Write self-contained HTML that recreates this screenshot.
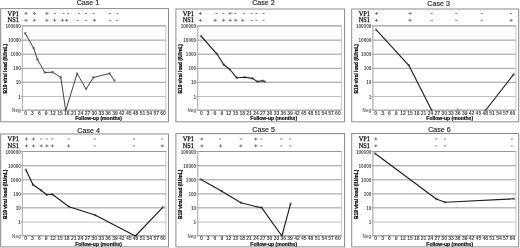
<!DOCTYPE html><html><head><meta charset="utf-8"><style>html,body{margin:0;padding:0;background:#fff;}svg{display:block;filter:grayscale(1) blur(0.3px);}text{font-family:"Liberation Sans",sans-serif;}</style></head><body>
<svg width="520" height="248" viewBox="0 0 520 248">
<rect width="520" height="248" fill="#fff"/>
<rect x="0.7" y="8.6" width="167.8" height="113.2" fill="none" stroke="#8a8a8a" stroke-width="1.0"/>
<text x="76.65" y="5.3" font-size="7.7" textLength="22.6" lengthAdjust="spacingAndGlyphs" fill="#2a2a2a" stroke="#2a2a2a" stroke-width="0.18">Case 1</text>
<text x="7.6" y="15.6" font-size="7.2" textLength="11.3" lengthAdjust="spacingAndGlyphs" fill="#111" stroke="#111" stroke-width="0.26" style="font-family:'Liberation Serif',serif;text-rendering:geometricPrecision">VP1</text>
<text x="7.6" y="22.3" font-size="7.2" textLength="11.3" lengthAdjust="spacingAndGlyphs" fill="#111" stroke="#111" stroke-width="0.26" style="font-family:'Liberation Serif',serif;text-rendering:geometricPrecision">NS1</text>
<rect x="22.4" y="25.9" width="143.5" height="84.3" fill="none" stroke="#c8c8c8" stroke-width="1"/>
<line x1="22.4" y1="25.9" x2="165.9" y2="25.9" stroke="#999" stroke-width="1.0"/>
<line x1="22.4" y1="40.15" x2="165.9" y2="40.15" stroke="#999" stroke-width="1.0"/>
<line x1="22.4" y1="54.2" x2="165.9" y2="54.2" stroke="#999" stroke-width="1.0"/>
<line x1="22.4" y1="68.3" x2="165.9" y2="68.3" stroke="#999" stroke-width="1.0"/>
<line x1="22.4" y1="82.25" x2="165.9" y2="82.25" stroke="#999" stroke-width="1.0"/>
<line x1="22.4" y1="96.5" x2="165.9" y2="96.5" stroke="#c0c0c0" stroke-width="1.0"/>
<line x1="22.4" y1="25.9" x2="22.4" y2="110.2" stroke="#b4b4b4" stroke-width="1"/>
<line x1="22.4" y1="110.2" x2="165.9" y2="110.2" stroke="#999" stroke-width="1"/>
<line x1="20.9" y1="25.9" x2="22.4" y2="25.9" stroke="#999" stroke-width="0.8"/>
<text transform="translate(20.8 27.9) scale(1.0 1)" font-size="4.6" text-anchor="end" font-weight="bold" fill="#4a4a4a">100000</text>
<line x1="20.9" y1="40.15" x2="22.4" y2="40.15" stroke="#999" stroke-width="0.8"/>
<text transform="translate(20.8 42.15) scale(1.0 1)" font-size="4.6" text-anchor="end" font-weight="bold" fill="#4a4a4a">10000</text>
<line x1="20.9" y1="54.2" x2="22.4" y2="54.2" stroke="#999" stroke-width="0.8"/>
<text transform="translate(20.8 56.2) scale(1.0 1)" font-size="4.6" text-anchor="end" font-weight="bold" fill="#4a4a4a">1000</text>
<line x1="20.9" y1="68.3" x2="22.4" y2="68.3" stroke="#999" stroke-width="0.8"/>
<text transform="translate(20.8 70.3) scale(1.0 1)" font-size="4.6" text-anchor="end" font-weight="bold" fill="#4a4a4a">100</text>
<line x1="20.9" y1="82.25" x2="22.4" y2="82.25" stroke="#999" stroke-width="0.8"/>
<text transform="translate(20.8 84.25) scale(1.0 1)" font-size="4.6" text-anchor="end" font-weight="bold" fill="#4a4a4a">10</text>
<line x1="20.9" y1="96.5" x2="22.4" y2="96.5" stroke="#999" stroke-width="0.8"/>
<text transform="translate(20.8 98.5) scale(1.0 1)" font-size="4.6" text-anchor="end" font-weight="bold" fill="#4a4a4a">1</text>
<line x1="20.9" y1="110.2" x2="22.4" y2="110.2" stroke="#999" stroke-width="0.8"/>
<text transform="translate(20.8 112.2) scale(1.0 1)" font-size="4.6" text-anchor="end" font-weight="bold" fill="#707070">Neg</text>
<text transform="translate(25.6 114.7) scale(1.0 1)" font-size="5.0" text-anchor="middle" font-weight="bold" fill="#444">0</text>
<text transform="translate(32.48 114.7) scale(1.0 1)" font-size="5.0" text-anchor="middle" font-weight="bold" fill="#444">3</text>
<text transform="translate(39.35 114.7) scale(1.0 1)" font-size="5.0" text-anchor="middle" font-weight="bold" fill="#444">6</text>
<text transform="translate(46.23 114.7) scale(1.0 1)" font-size="5.0" text-anchor="middle" font-weight="bold" fill="#444">9</text>
<text transform="translate(53.1 114.7) scale(1.0 1)" font-size="5.0" text-anchor="middle" font-weight="bold" fill="#444">12</text>
<text transform="translate(59.98 114.7) scale(1.0 1)" font-size="5.0" text-anchor="middle" font-weight="bold" fill="#444">15</text>
<text transform="translate(66.85 114.7) scale(1.0 1)" font-size="5.0" text-anchor="middle" font-weight="bold" fill="#444">18</text>
<text transform="translate(73.72 114.7) scale(1.0 1)" font-size="5.0" text-anchor="middle" font-weight="bold" fill="#444">21</text>
<text transform="translate(80.6 114.7) scale(1.0 1)" font-size="5.0" text-anchor="middle" font-weight="bold" fill="#444">24</text>
<text transform="translate(87.47 114.7) scale(1.0 1)" font-size="5.0" text-anchor="middle" font-weight="bold" fill="#444">27</text>
<text transform="translate(94.35 114.7) scale(1.0 1)" font-size="5.0" text-anchor="middle" font-weight="bold" fill="#444">30</text>
<text transform="translate(101.22 114.7) scale(1.0 1)" font-size="5.0" text-anchor="middle" font-weight="bold" fill="#444">33</text>
<text transform="translate(108.1 114.7) scale(1.0 1)" font-size="5.0" text-anchor="middle" font-weight="bold" fill="#444">36</text>
<text transform="translate(114.97 114.7) scale(1.0 1)" font-size="5.0" text-anchor="middle" font-weight="bold" fill="#444">39</text>
<text transform="translate(121.85 114.7) scale(1.0 1)" font-size="5.0" text-anchor="middle" font-weight="bold" fill="#444">42</text>
<text transform="translate(128.72 114.7) scale(1.0 1)" font-size="5.0" text-anchor="middle" font-weight="bold" fill="#444">45</text>
<text transform="translate(135.6 114.7) scale(1.0 1)" font-size="5.0" text-anchor="middle" font-weight="bold" fill="#444">48</text>
<text transform="translate(142.47 114.7) scale(1.0 1)" font-size="5.0" text-anchor="middle" font-weight="bold" fill="#444">51</text>
<text transform="translate(149.35 114.7) scale(1.0 1)" font-size="5.0" text-anchor="middle" font-weight="bold" fill="#444">54</text>
<text transform="translate(156.22 114.7) scale(1.0 1)" font-size="5.0" text-anchor="middle" font-weight="bold" fill="#444">57</text>
<text transform="translate(163.1 114.7) scale(1.0 1)" font-size="5.0" text-anchor="middle" font-weight="bold" fill="#444">60</text>
<text x="75.2" y="120" font-size="5.4" font-weight="bold" textLength="46.8" lengthAdjust="spacingAndGlyphs" fill="#111" stroke="#111" stroke-width="0.22">Follow-up (months)</text>
<text x="4.8" y="68.7" font-size="5.6" font-weight="bold" text-anchor="middle" dominant-baseline="central" textLength="49.4" lengthAdjust="spacingAndGlyphs" fill="#111" stroke="#111" stroke-width="0.28" transform="rotate(-90 4.8 68.7)">B19 viral load (IU/mL)</text>
<rect x="24" y="32" width="2.4" height="2.4" fill="#999"/>
<rect x="32.5" y="47" width="2.4" height="2.4" fill="#999"/>
<rect x="36.3" y="58.4" width="2.4" height="2.4" fill="#999"/>
<rect x="43.6" y="71.3" width="2.4" height="2.4" fill="#999"/>
<rect x="51.4" y="71" width="2.4" height="2.4" fill="#999"/>
<rect x="59.6" y="76.2" width="2.4" height="2.4" fill="#999"/>
<rect x="64.5" y="109.3" width="2.4" height="2.4" fill="#999"/>
<rect x="75.9" y="72.4" width="2.4" height="2.4" fill="#999"/>
<rect x="84.9" y="87.8" width="2.4" height="2.4" fill="#999"/>
<rect x="92.1" y="76.3" width="2.4" height="2.4" fill="#999"/>
<rect x="108.4" y="72.3" width="2.4" height="2.4" fill="#999"/>
<rect x="113.3" y="79.4" width="2.4" height="2.4" fill="#999"/>
<polyline points="25.2,33.2 33.7,48.2 37.5,59.6 44.8,72.5 52.6,72.2 60.8,77.4 65.7,110.5 77.1,73.6 86.1,89 93.3,77.5 109.6,73.5 114.5,80.6" fill="none" stroke="#383838" stroke-width="0.95" stroke-linejoin="round"/>
<line x1="24.3" y1="13.4" x2="27.7" y2="13.4" stroke="#707070" stroke-width="0.9"/>
<line x1="26" y1="11.9" x2="26" y2="14.9" stroke="#707070" stroke-width="0.9"/>
<line x1="32.7" y1="13.4" x2="36.1" y2="13.4" stroke="#707070" stroke-width="0.9"/>
<line x1="34.4" y1="11.9" x2="34.4" y2="14.9" stroke="#707070" stroke-width="0.9"/>
<line x1="45.2" y1="13.4" x2="48.6" y2="13.4" stroke="#707070" stroke-width="0.9"/>
<line x1="46.9" y1="11.9" x2="46.9" y2="14.9" stroke="#707070" stroke-width="0.9"/>
<line x1="53.5" y1="13.4" x2="55.7" y2="13.4" stroke="#707070" stroke-width="0.9"/>
<line x1="62.4" y1="13.4" x2="64.6" y2="13.4" stroke="#707070" stroke-width="0.9"/>
<line x1="67" y1="13.4" x2="69.2" y2="13.4" stroke="#707070" stroke-width="0.9"/>
<line x1="78" y1="13.4" x2="80.2" y2="13.4" stroke="#707070" stroke-width="0.9"/>
<line x1="84.9" y1="13.4" x2="87.1" y2="13.4" stroke="#707070" stroke-width="0.9"/>
<line x1="92.5" y1="13.4" x2="94.7" y2="13.4" stroke="#707070" stroke-width="0.9"/>
<line x1="108.9" y1="13.4" x2="111.1" y2="13.4" stroke="#707070" stroke-width="0.9"/>
<line x1="116.4" y1="13.4" x2="118.6" y2="13.4" stroke="#707070" stroke-width="0.9"/>
<line x1="24.3" y1="20.3" x2="27.7" y2="20.3" stroke="#707070" stroke-width="0.9"/>
<line x1="26" y1="18.8" x2="26" y2="21.8" stroke="#707070" stroke-width="0.9"/>
<line x1="32.7" y1="20.3" x2="36.1" y2="20.3" stroke="#707070" stroke-width="0.9"/>
<line x1="34.4" y1="18.8" x2="34.4" y2="21.8" stroke="#707070" stroke-width="0.9"/>
<line x1="45.2" y1="20.3" x2="48.6" y2="20.3" stroke="#707070" stroke-width="0.9"/>
<line x1="46.9" y1="18.8" x2="46.9" y2="21.8" stroke="#707070" stroke-width="0.9"/>
<line x1="52.9" y1="20.3" x2="56.3" y2="20.3" stroke="#707070" stroke-width="0.9"/>
<line x1="54.6" y1="18.8" x2="54.6" y2="21.8" stroke="#707070" stroke-width="0.9"/>
<line x1="60.8" y1="20.3" x2="64.2" y2="20.3" stroke="#707070" stroke-width="0.9"/>
<line x1="62.5" y1="18.8" x2="62.5" y2="21.8" stroke="#707070" stroke-width="0.9"/>
<line x1="65" y1="20.3" x2="68.4" y2="20.3" stroke="#707070" stroke-width="0.9"/>
<line x1="66.7" y1="18.8" x2="66.7" y2="21.8" stroke="#707070" stroke-width="0.9"/>
<line x1="76.4" y1="20.3" x2="78.6" y2="20.3" stroke="#707070" stroke-width="0.9"/>
<line x1="84.7" y1="20.3" x2="86.9" y2="20.3" stroke="#707070" stroke-width="0.9"/>
<line x1="92.7" y1="20.3" x2="96.1" y2="20.3" stroke="#707070" stroke-width="0.9"/>
<line x1="94.4" y1="18.8" x2="94.4" y2="21.8" stroke="#707070" stroke-width="0.9"/>
<line x1="108.9" y1="20.3" x2="111.1" y2="20.3" stroke="#707070" stroke-width="0.9"/>
<line x1="116" y1="20.3" x2="118.2" y2="20.3" stroke="#707070" stroke-width="0.9"/>
<rect x="175.9" y="9" width="168.7" height="112.8" fill="none" stroke="#8a8a8a" stroke-width="1.0"/>
<text x="252.15" y="5.3" font-size="7.7" textLength="22.6" lengthAdjust="spacingAndGlyphs" fill="#2a2a2a" stroke="#2a2a2a" stroke-width="0.18">Case 2</text>
<text x="182.7" y="15.6" font-size="7.2" textLength="11.3" lengthAdjust="spacingAndGlyphs" fill="#111" stroke="#111" stroke-width="0.26" style="font-family:'Liberation Serif',serif;text-rendering:geometricPrecision">VP1</text>
<text x="182.7" y="22.3" font-size="7.2" textLength="11.3" lengthAdjust="spacingAndGlyphs" fill="#111" stroke="#111" stroke-width="0.26" style="font-family:'Liberation Serif',serif;text-rendering:geometricPrecision">NS1</text>
<rect x="197.7" y="25.9" width="143.7" height="84.3" fill="none" stroke="#c8c8c8" stroke-width="1"/>
<line x1="197.7" y1="25.9" x2="341.4" y2="25.9" stroke="#999" stroke-width="1.0"/>
<line x1="197.7" y1="40.15" x2="341.4" y2="40.15" stroke="#999" stroke-width="1.0"/>
<line x1="197.7" y1="54.2" x2="341.4" y2="54.2" stroke="#999" stroke-width="1.0"/>
<line x1="197.7" y1="68.3" x2="341.4" y2="68.3" stroke="#999" stroke-width="1.0"/>
<line x1="197.7" y1="82.25" x2="341.4" y2="82.25" stroke="#999" stroke-width="1.0"/>
<line x1="197.7" y1="96.5" x2="341.4" y2="96.5" stroke="#c0c0c0" stroke-width="1.0"/>
<line x1="197.7" y1="25.9" x2="197.7" y2="110.2" stroke="#b4b4b4" stroke-width="1"/>
<line x1="197.7" y1="110.2" x2="341.4" y2="110.2" stroke="#999" stroke-width="1"/>
<line x1="196.2" y1="25.9" x2="197.7" y2="25.9" stroke="#999" stroke-width="0.8"/>
<text transform="translate(196.1 27.9) scale(1.0 1)" font-size="4.6" text-anchor="end" font-weight="bold" fill="#4a4a4a">100000</text>
<line x1="196.2" y1="40.15" x2="197.7" y2="40.15" stroke="#999" stroke-width="0.8"/>
<text transform="translate(196.1 42.15) scale(1.0 1)" font-size="4.6" text-anchor="end" font-weight="bold" fill="#4a4a4a">10000</text>
<line x1="196.2" y1="54.2" x2="197.7" y2="54.2" stroke="#999" stroke-width="0.8"/>
<text transform="translate(196.1 56.2) scale(1.0 1)" font-size="4.6" text-anchor="end" font-weight="bold" fill="#4a4a4a">1000</text>
<line x1="196.2" y1="68.3" x2="197.7" y2="68.3" stroke="#999" stroke-width="0.8"/>
<text transform="translate(196.1 70.3) scale(1.0 1)" font-size="4.6" text-anchor="end" font-weight="bold" fill="#4a4a4a">100</text>
<line x1="196.2" y1="82.25" x2="197.7" y2="82.25" stroke="#999" stroke-width="0.8"/>
<text transform="translate(196.1 84.25) scale(1.0 1)" font-size="4.6" text-anchor="end" font-weight="bold" fill="#4a4a4a">10</text>
<line x1="196.2" y1="96.5" x2="197.7" y2="96.5" stroke="#999" stroke-width="0.8"/>
<text transform="translate(196.1 98.5) scale(1.0 1)" font-size="4.6" text-anchor="end" font-weight="bold" fill="#4a4a4a">1</text>
<line x1="196.2" y1="110.2" x2="197.7" y2="110.2" stroke="#999" stroke-width="0.8"/>
<text transform="translate(196.1 112.2) scale(1.0 1)" font-size="4.6" text-anchor="end" font-weight="bold" fill="#707070">Neg</text>
<text transform="translate(201.3 114.7) scale(1.0 1)" font-size="5.0" text-anchor="middle" font-weight="bold" fill="#444">0</text>
<text transform="translate(208.13 114.7) scale(1.0 1)" font-size="5.0" text-anchor="middle" font-weight="bold" fill="#444">3</text>
<text transform="translate(214.96 114.7) scale(1.0 1)" font-size="5.0" text-anchor="middle" font-weight="bold" fill="#444">6</text>
<text transform="translate(221.79 114.7) scale(1.0 1)" font-size="5.0" text-anchor="middle" font-weight="bold" fill="#444">9</text>
<text transform="translate(228.62 114.7) scale(1.0 1)" font-size="5.0" text-anchor="middle" font-weight="bold" fill="#444">12</text>
<text transform="translate(235.45 114.7) scale(1.0 1)" font-size="5.0" text-anchor="middle" font-weight="bold" fill="#444">15</text>
<text transform="translate(242.28 114.7) scale(1.0 1)" font-size="5.0" text-anchor="middle" font-weight="bold" fill="#444">18</text>
<text transform="translate(249.11 114.7) scale(1.0 1)" font-size="5.0" text-anchor="middle" font-weight="bold" fill="#444">21</text>
<text transform="translate(255.94 114.7) scale(1.0 1)" font-size="5.0" text-anchor="middle" font-weight="bold" fill="#444">24</text>
<text transform="translate(262.77 114.7) scale(1.0 1)" font-size="5.0" text-anchor="middle" font-weight="bold" fill="#444">27</text>
<text transform="translate(269.6 114.7) scale(1.0 1)" font-size="5.0" text-anchor="middle" font-weight="bold" fill="#444">30</text>
<text transform="translate(276.43 114.7) scale(1.0 1)" font-size="5.0" text-anchor="middle" font-weight="bold" fill="#444">33</text>
<text transform="translate(283.26 114.7) scale(1.0 1)" font-size="5.0" text-anchor="middle" font-weight="bold" fill="#444">36</text>
<text transform="translate(290.09 114.7) scale(1.0 1)" font-size="5.0" text-anchor="middle" font-weight="bold" fill="#444">39</text>
<text transform="translate(296.92 114.7) scale(1.0 1)" font-size="5.0" text-anchor="middle" font-weight="bold" fill="#444">42</text>
<text transform="translate(303.75 114.7) scale(1.0 1)" font-size="5.0" text-anchor="middle" font-weight="bold" fill="#444">45</text>
<text transform="translate(310.58 114.7) scale(1.0 1)" font-size="5.0" text-anchor="middle" font-weight="bold" fill="#444">48</text>
<text transform="translate(317.41 114.7) scale(1.0 1)" font-size="5.0" text-anchor="middle" font-weight="bold" fill="#444">51</text>
<text transform="translate(324.24 114.7) scale(1.0 1)" font-size="5.0" text-anchor="middle" font-weight="bold" fill="#444">54</text>
<text transform="translate(331.07 114.7) scale(1.0 1)" font-size="5.0" text-anchor="middle" font-weight="bold" fill="#444">57</text>
<text transform="translate(337.9 114.7) scale(1.0 1)" font-size="5.0" text-anchor="middle" font-weight="bold" fill="#444">60</text>
<text x="250.3" y="120" font-size="5.4" font-weight="bold" textLength="46.8" lengthAdjust="spacingAndGlyphs" fill="#111" stroke="#111" stroke-width="0.22">Follow-up (months)</text>
<text x="179.9" y="68.7" font-size="5.6" font-weight="bold" text-anchor="middle" dominant-baseline="central" textLength="49.4" lengthAdjust="spacingAndGlyphs" fill="#111" stroke="#111" stroke-width="0.28" transform="rotate(-90 179.9 68.7)">B19 viral load (IU/mL)</text>
<rect x="199.8" y="34.8" width="2.4" height="2.4" fill="#999"/>
<rect x="215.6" y="52.6" width="2.4" height="2.4" fill="#999"/>
<rect x="222.6" y="63.6" width="2.4" height="2.4" fill="#999"/>
<rect x="228.7" y="68.3" width="2.4" height="2.4" fill="#999"/>
<rect x="235.6" y="76.6" width="2.4" height="2.4" fill="#999"/>
<rect x="243.4" y="76" width="2.4" height="2.4" fill="#999"/>
<rect x="251.4" y="77.2" width="2.4" height="2.4" fill="#999"/>
<rect x="255.9" y="80.4" width="2.4" height="2.4" fill="#999"/>
<rect x="261.3" y="79.6" width="2.4" height="2.4" fill="#999"/>
<rect x="263.8" y="80.6" width="2.4" height="2.4" fill="#999"/>
<polyline points="201,36 216.8,53.8 223.8,64.8 229.9,69.5 236.8,77.8 244.6,77.2 252.6,78.4 257.1,81.6 262.5,80.8 265,81.8" fill="none" stroke="#1e1e1e" stroke-width="1.15" stroke-linejoin="round"/>
<line x1="198.7" y1="13.4" x2="202.1" y2="13.4" stroke="#707070" stroke-width="0.9"/>
<line x1="200.4" y1="11.9" x2="200.4" y2="14.9" stroke="#707070" stroke-width="0.9"/>
<line x1="215.4" y1="13.4" x2="217.6" y2="13.4" stroke="#707070" stroke-width="0.9"/>
<line x1="222.1" y1="13.4" x2="224.3" y2="13.4" stroke="#707070" stroke-width="0.9"/>
<line x1="228.4" y1="13.4" x2="231.8" y2="13.4" stroke="#707070" stroke-width="0.9"/>
<line x1="230.1" y1="11.9" x2="230.1" y2="14.9" stroke="#707070" stroke-width="0.9"/>
<line x1="234.2" y1="13.4" x2="236.4" y2="13.4" stroke="#707070" stroke-width="0.9"/>
<line x1="242.8" y1="13.4" x2="245" y2="13.4" stroke="#707070" stroke-width="0.9"/>
<line x1="250.8" y1="13.4" x2="253" y2="13.4" stroke="#707070" stroke-width="0.9"/>
<line x1="255.4" y1="13.4" x2="257.6" y2="13.4" stroke="#707070" stroke-width="0.9"/>
<line x1="262.4" y1="13.4" x2="264.6" y2="13.4" stroke="#707070" stroke-width="0.9"/>
<line x1="198.7" y1="20.3" x2="202.1" y2="20.3" stroke="#707070" stroke-width="0.9"/>
<line x1="200.4" y1="18.8" x2="200.4" y2="21.8" stroke="#707070" stroke-width="0.9"/>
<line x1="213.5" y1="20.3" x2="216.9" y2="20.3" stroke="#707070" stroke-width="0.9"/>
<line x1="215.2" y1="18.8" x2="215.2" y2="21.8" stroke="#707070" stroke-width="0.9"/>
<line x1="221.9" y1="20.3" x2="225.3" y2="20.3" stroke="#707070" stroke-width="0.9"/>
<line x1="223.6" y1="18.8" x2="223.6" y2="21.8" stroke="#707070" stroke-width="0.9"/>
<line x1="228.4" y1="20.3" x2="231.8" y2="20.3" stroke="#707070" stroke-width="0.9"/>
<line x1="230.1" y1="18.8" x2="230.1" y2="21.8" stroke="#707070" stroke-width="0.9"/>
<line x1="234.1" y1="20.3" x2="237.5" y2="20.3" stroke="#707070" stroke-width="0.9"/>
<line x1="235.8" y1="18.8" x2="235.8" y2="21.8" stroke="#707070" stroke-width="0.9"/>
<line x1="241" y1="20.3" x2="244.4" y2="20.3" stroke="#707070" stroke-width="0.9"/>
<line x1="242.7" y1="18.8" x2="242.7" y2="21.8" stroke="#707070" stroke-width="0.9"/>
<line x1="250.8" y1="20.3" x2="253" y2="20.3" stroke="#707070" stroke-width="0.9"/>
<line x1="255.4" y1="20.3" x2="257.6" y2="20.3" stroke="#707070" stroke-width="0.9"/>
<line x1="262.4" y1="20.3" x2="264.6" y2="20.3" stroke="#707070" stroke-width="0.9"/>
<rect x="351.7" y="9" width="167" height="112.8" fill="none" stroke="#8a8a8a" stroke-width="1.0"/>
<text x="427.35" y="6.4" font-size="7.7" textLength="22.6" lengthAdjust="spacingAndGlyphs" fill="#2a2a2a" stroke="#2a2a2a" stroke-width="0.18">Case 3</text>
<text x="358.7" y="15.6" font-size="7.2" textLength="11.3" lengthAdjust="spacingAndGlyphs" fill="#111" stroke="#111" stroke-width="0.26" style="font-family:'Liberation Serif',serif;text-rendering:geometricPrecision">VP1</text>
<text x="358.7" y="22.3" font-size="7.2" textLength="11.3" lengthAdjust="spacingAndGlyphs" fill="#111" stroke="#111" stroke-width="0.26" style="font-family:'Liberation Serif',serif;text-rendering:geometricPrecision">NS1</text>
<rect x="372.9" y="25.9" width="143" height="84.3" fill="none" stroke="#c8c8c8" stroke-width="1"/>
<line x1="372.9" y1="25.9" x2="515.9" y2="25.9" stroke="#999" stroke-width="1.0"/>
<line x1="372.9" y1="40.15" x2="515.9" y2="40.15" stroke="#999" stroke-width="1.0"/>
<line x1="372.9" y1="54.2" x2="515.9" y2="54.2" stroke="#999" stroke-width="1.0"/>
<line x1="372.9" y1="68.3" x2="515.9" y2="68.3" stroke="#999" stroke-width="1.0"/>
<line x1="372.9" y1="82.25" x2="515.9" y2="82.25" stroke="#999" stroke-width="1.0"/>
<line x1="372.9" y1="96.5" x2="515.9" y2="96.5" stroke="#c0c0c0" stroke-width="1.0"/>
<line x1="372.9" y1="25.9" x2="372.9" y2="110.2" stroke="#b4b4b4" stroke-width="1"/>
<line x1="372.9" y1="110.2" x2="515.9" y2="110.2" stroke="#999" stroke-width="1"/>
<line x1="371.4" y1="25.9" x2="372.9" y2="25.9" stroke="#999" stroke-width="0.8"/>
<text transform="translate(371.3 27.9) scale(1.0 1)" font-size="4.6" text-anchor="end" font-weight="bold" fill="#4a4a4a">100000</text>
<line x1="371.4" y1="40.15" x2="372.9" y2="40.15" stroke="#999" stroke-width="0.8"/>
<text transform="translate(371.3 42.15) scale(1.0 1)" font-size="4.6" text-anchor="end" font-weight="bold" fill="#4a4a4a">10000</text>
<line x1="371.4" y1="54.2" x2="372.9" y2="54.2" stroke="#999" stroke-width="0.8"/>
<text transform="translate(371.3 56.2) scale(1.0 1)" font-size="4.6" text-anchor="end" font-weight="bold" fill="#4a4a4a">1000</text>
<line x1="371.4" y1="68.3" x2="372.9" y2="68.3" stroke="#999" stroke-width="0.8"/>
<text transform="translate(371.3 70.3) scale(1.0 1)" font-size="4.6" text-anchor="end" font-weight="bold" fill="#4a4a4a">100</text>
<line x1="371.4" y1="82.25" x2="372.9" y2="82.25" stroke="#999" stroke-width="0.8"/>
<text transform="translate(371.3 84.25) scale(1.0 1)" font-size="4.6" text-anchor="end" font-weight="bold" fill="#4a4a4a">10</text>
<line x1="371.4" y1="96.5" x2="372.9" y2="96.5" stroke="#999" stroke-width="0.8"/>
<text transform="translate(371.3 98.5) scale(1.0 1)" font-size="4.6" text-anchor="end" font-weight="bold" fill="#4a4a4a">1</text>
<line x1="371.4" y1="110.2" x2="372.9" y2="110.2" stroke="#999" stroke-width="0.8"/>
<text transform="translate(371.3 112.2) scale(1.0 1)" font-size="4.6" text-anchor="end" font-weight="bold" fill="#707070">Neg</text>
<text transform="translate(375.7 114.7) scale(1.0 1)" font-size="5.0" text-anchor="middle" font-weight="bold" fill="#444">0</text>
<text transform="translate(382.55 114.7) scale(1.0 1)" font-size="5.0" text-anchor="middle" font-weight="bold" fill="#444">3</text>
<text transform="translate(389.39 114.7) scale(1.0 1)" font-size="5.0" text-anchor="middle" font-weight="bold" fill="#444">6</text>
<text transform="translate(396.24 114.7) scale(1.0 1)" font-size="5.0" text-anchor="middle" font-weight="bold" fill="#444">9</text>
<text transform="translate(403.08 114.7) scale(1.0 1)" font-size="5.0" text-anchor="middle" font-weight="bold" fill="#444">12</text>
<text transform="translate(409.93 114.7) scale(1.0 1)" font-size="5.0" text-anchor="middle" font-weight="bold" fill="#444">15</text>
<text transform="translate(416.77 114.7) scale(1.0 1)" font-size="5.0" text-anchor="middle" font-weight="bold" fill="#444">18</text>
<text transform="translate(423.62 114.7) scale(1.0 1)" font-size="5.0" text-anchor="middle" font-weight="bold" fill="#444">21</text>
<text transform="translate(430.46 114.7) scale(1.0 1)" font-size="5.0" text-anchor="middle" font-weight="bold" fill="#444">24</text>
<text transform="translate(437.31 114.7) scale(1.0 1)" font-size="5.0" text-anchor="middle" font-weight="bold" fill="#444">27</text>
<text transform="translate(444.15 114.7) scale(1.0 1)" font-size="5.0" text-anchor="middle" font-weight="bold" fill="#444">30</text>
<text transform="translate(451 114.7) scale(1.0 1)" font-size="5.0" text-anchor="middle" font-weight="bold" fill="#444">33</text>
<text transform="translate(457.84 114.7) scale(1.0 1)" font-size="5.0" text-anchor="middle" font-weight="bold" fill="#444">36</text>
<text transform="translate(464.69 114.7) scale(1.0 1)" font-size="5.0" text-anchor="middle" font-weight="bold" fill="#444">39</text>
<text transform="translate(471.53 114.7) scale(1.0 1)" font-size="5.0" text-anchor="middle" font-weight="bold" fill="#444">42</text>
<text transform="translate(478.38 114.7) scale(1.0 1)" font-size="5.0" text-anchor="middle" font-weight="bold" fill="#444">45</text>
<text transform="translate(485.22 114.7) scale(1.0 1)" font-size="5.0" text-anchor="middle" font-weight="bold" fill="#444">48</text>
<text transform="translate(492.06 114.7) scale(1.0 1)" font-size="5.0" text-anchor="middle" font-weight="bold" fill="#444">51</text>
<text transform="translate(498.91 114.7) scale(1.0 1)" font-size="5.0" text-anchor="middle" font-weight="bold" fill="#444">54</text>
<text transform="translate(505.75 114.7) scale(1.0 1)" font-size="5.0" text-anchor="middle" font-weight="bold" fill="#444">57</text>
<text transform="translate(512.6 114.7) scale(1.0 1)" font-size="5.0" text-anchor="middle" font-weight="bold" fill="#444">60</text>
<text x="426.3" y="120" font-size="5.4" font-weight="bold" textLength="46.8" lengthAdjust="spacingAndGlyphs" fill="#111" stroke="#111" stroke-width="0.22">Follow-up (months)</text>
<text x="355.9" y="68.7" font-size="5.6" font-weight="bold" text-anchor="middle" dominant-baseline="central" textLength="49.4" lengthAdjust="spacingAndGlyphs" fill="#111" stroke="#111" stroke-width="0.28" transform="rotate(-90 355.9 68.7)">B19 viral load (IU/mL)</text>
<rect x="374.8" y="28.5" width="2.4" height="2.4" fill="#999"/>
<rect x="407.6" y="64.1" width="2.4" height="2.4" fill="#999"/>
<rect x="430.6" y="109.3" width="2.4" height="2.4" fill="#999"/>
<rect x="484.3" y="109.3" width="2.4" height="2.4" fill="#999"/>
<rect x="512.4" y="73.2" width="2.4" height="2.4" fill="#999"/>
<rect x="456.5" y="108.8" width="2.4" height="2.4" fill="#999"/>
<polyline points="376,29.7 408.8,65.3 431.8,110.5" fill="none" stroke="#1e1e1e" stroke-width="1.15" stroke-linejoin="round"/>
<polyline points="485.5,110.5 513.6,74.4" fill="none" stroke="#1e1e1e" stroke-width="1.15" stroke-linejoin="round"/>
<line x1="374.8" y1="13.4" x2="378.2" y2="13.4" stroke="#707070" stroke-width="0.9"/>
<line x1="376.5" y1="11.9" x2="376.5" y2="14.9" stroke="#707070" stroke-width="0.9"/>
<line x1="408.4" y1="13.4" x2="411.8" y2="13.4" stroke="#707070" stroke-width="0.9"/>
<line x1="410.1" y1="11.9" x2="410.1" y2="14.9" stroke="#707070" stroke-width="0.9"/>
<line x1="430.7" y1="13.4" x2="432.9" y2="13.4" stroke="#707070" stroke-width="0.9"/>
<line x1="455.2" y1="13.4" x2="457.4" y2="13.4" stroke="#707070" stroke-width="0.9"/>
<line x1="480.7" y1="13.4" x2="482.9" y2="13.4" stroke="#707070" stroke-width="0.9"/>
<line x1="510" y1="13.4" x2="512.2" y2="13.4" stroke="#707070" stroke-width="0.9"/>
<line x1="374.8" y1="20.3" x2="378.2" y2="20.3" stroke="#707070" stroke-width="0.9"/>
<line x1="376.5" y1="18.8" x2="376.5" y2="21.8" stroke="#707070" stroke-width="0.9"/>
<line x1="408.4" y1="20.3" x2="411.8" y2="20.3" stroke="#707070" stroke-width="0.9"/>
<line x1="410.1" y1="18.8" x2="410.1" y2="21.8" stroke="#707070" stroke-width="0.9"/>
<line x1="430.7" y1="20.3" x2="432.9" y2="20.3" stroke="#707070" stroke-width="0.9"/>
<line x1="455.2" y1="20.3" x2="457.4" y2="20.3" stroke="#707070" stroke-width="0.9"/>
<line x1="480.7" y1="20.3" x2="482.9" y2="20.3" stroke="#707070" stroke-width="0.9"/>
<line x1="509.4" y1="20.3" x2="512.8" y2="20.3" stroke="#707070" stroke-width="0.9"/>
<line x1="511.1" y1="18.8" x2="511.1" y2="21.8" stroke="#707070" stroke-width="0.9"/>
<rect x="0.7" y="134" width="167.8" height="112.9" fill="none" stroke="#8a8a8a" stroke-width="1.0"/>
<text x="77.35" y="132.8" font-size="7.7" textLength="22.6" lengthAdjust="spacingAndGlyphs" fill="#2a2a2a" stroke="#2a2a2a" stroke-width="0.18">Case 4</text>
<text x="7.6" y="141.2" font-size="7.2" textLength="11.3" lengthAdjust="spacingAndGlyphs" fill="#111" stroke="#111" stroke-width="0.26" style="font-family:'Liberation Serif',serif;text-rendering:geometricPrecision">VP1</text>
<text x="7.6" y="147.9" font-size="7.2" textLength="11.3" lengthAdjust="spacingAndGlyphs" fill="#111" stroke="#111" stroke-width="0.26" style="font-family:'Liberation Serif',serif;text-rendering:geometricPrecision">NS1</text>
<rect x="22.4" y="151.5" width="143.5" height="84.3" fill="none" stroke="#c8c8c8" stroke-width="1"/>
<line x1="22.4" y1="151.5" x2="165.9" y2="151.5" stroke="#999" stroke-width="1.0"/>
<line x1="22.4" y1="165.75" x2="165.9" y2="165.75" stroke="#999" stroke-width="1.0"/>
<line x1="22.4" y1="179.8" x2="165.9" y2="179.8" stroke="#999" stroke-width="1.0"/>
<line x1="22.4" y1="193.9" x2="165.9" y2="193.9" stroke="#999" stroke-width="1.0"/>
<line x1="22.4" y1="207.85" x2="165.9" y2="207.85" stroke="#999" stroke-width="1.0"/>
<line x1="22.4" y1="222.1" x2="165.9" y2="222.1" stroke="#c0c0c0" stroke-width="1.0"/>
<line x1="22.4" y1="151.5" x2="22.4" y2="235.8" stroke="#b4b4b4" stroke-width="1"/>
<line x1="22.4" y1="235.8" x2="165.9" y2="235.8" stroke="#999" stroke-width="1"/>
<line x1="20.9" y1="151.5" x2="22.4" y2="151.5" stroke="#999" stroke-width="0.8"/>
<text transform="translate(20.8 153.5) scale(1.0 1)" font-size="4.6" text-anchor="end" font-weight="bold" fill="#4a4a4a">100000</text>
<line x1="20.9" y1="165.75" x2="22.4" y2="165.75" stroke="#999" stroke-width="0.8"/>
<text transform="translate(20.8 167.75) scale(1.0 1)" font-size="4.6" text-anchor="end" font-weight="bold" fill="#4a4a4a">10000</text>
<line x1="20.9" y1="179.8" x2="22.4" y2="179.8" stroke="#999" stroke-width="0.8"/>
<text transform="translate(20.8 181.8) scale(1.0 1)" font-size="4.6" text-anchor="end" font-weight="bold" fill="#4a4a4a">1000</text>
<line x1="20.9" y1="193.9" x2="22.4" y2="193.9" stroke="#999" stroke-width="0.8"/>
<text transform="translate(20.8 195.9) scale(1.0 1)" font-size="4.6" text-anchor="end" font-weight="bold" fill="#4a4a4a">100</text>
<line x1="20.9" y1="207.85" x2="22.4" y2="207.85" stroke="#999" stroke-width="0.8"/>
<text transform="translate(20.8 209.85) scale(1.0 1)" font-size="4.6" text-anchor="end" font-weight="bold" fill="#4a4a4a">10</text>
<line x1="20.9" y1="222.1" x2="22.4" y2="222.1" stroke="#999" stroke-width="0.8"/>
<text transform="translate(20.8 224.1) scale(1.0 1)" font-size="4.6" text-anchor="end" font-weight="bold" fill="#4a4a4a">1</text>
<line x1="20.9" y1="235.8" x2="22.4" y2="235.8" stroke="#999" stroke-width="0.8"/>
<text transform="translate(20.8 237.8) scale(1.0 1)" font-size="4.6" text-anchor="end" font-weight="bold" fill="#707070">Neg</text>
<text transform="translate(25.6 240.4) scale(1.0 1)" font-size="5.0" text-anchor="middle" font-weight="bold" fill="#444">0</text>
<text transform="translate(32.48 240.4) scale(1.0 1)" font-size="5.0" text-anchor="middle" font-weight="bold" fill="#444">3</text>
<text transform="translate(39.35 240.4) scale(1.0 1)" font-size="5.0" text-anchor="middle" font-weight="bold" fill="#444">6</text>
<text transform="translate(46.23 240.4) scale(1.0 1)" font-size="5.0" text-anchor="middle" font-weight="bold" fill="#444">9</text>
<text transform="translate(53.1 240.4) scale(1.0 1)" font-size="5.0" text-anchor="middle" font-weight="bold" fill="#444">12</text>
<text transform="translate(59.98 240.4) scale(1.0 1)" font-size="5.0" text-anchor="middle" font-weight="bold" fill="#444">15</text>
<text transform="translate(66.85 240.4) scale(1.0 1)" font-size="5.0" text-anchor="middle" font-weight="bold" fill="#444">18</text>
<text transform="translate(73.72 240.4) scale(1.0 1)" font-size="5.0" text-anchor="middle" font-weight="bold" fill="#444">21</text>
<text transform="translate(80.6 240.4) scale(1.0 1)" font-size="5.0" text-anchor="middle" font-weight="bold" fill="#444">24</text>
<text transform="translate(87.47 240.4) scale(1.0 1)" font-size="5.0" text-anchor="middle" font-weight="bold" fill="#444">27</text>
<text transform="translate(94.35 240.4) scale(1.0 1)" font-size="5.0" text-anchor="middle" font-weight="bold" fill="#444">30</text>
<text transform="translate(101.22 240.4) scale(1.0 1)" font-size="5.0" text-anchor="middle" font-weight="bold" fill="#444">33</text>
<text transform="translate(108.1 240.4) scale(1.0 1)" font-size="5.0" text-anchor="middle" font-weight="bold" fill="#444">36</text>
<text transform="translate(114.97 240.4) scale(1.0 1)" font-size="5.0" text-anchor="middle" font-weight="bold" fill="#444">39</text>
<text transform="translate(121.85 240.4) scale(1.0 1)" font-size="5.0" text-anchor="middle" font-weight="bold" fill="#444">42</text>
<text transform="translate(128.72 240.4) scale(1.0 1)" font-size="5.0" text-anchor="middle" font-weight="bold" fill="#444">45</text>
<text transform="translate(135.6 240.4) scale(1.0 1)" font-size="5.0" text-anchor="middle" font-weight="bold" fill="#444">48</text>
<text transform="translate(142.47 240.4) scale(1.0 1)" font-size="5.0" text-anchor="middle" font-weight="bold" fill="#444">51</text>
<text transform="translate(149.35 240.4) scale(1.0 1)" font-size="5.0" text-anchor="middle" font-weight="bold" fill="#444">54</text>
<text transform="translate(156.22 240.4) scale(1.0 1)" font-size="5.0" text-anchor="middle" font-weight="bold" fill="#444">57</text>
<text transform="translate(163.1 240.4) scale(1.0 1)" font-size="5.0" text-anchor="middle" font-weight="bold" fill="#444">60</text>
<text x="75.2" y="245.8" font-size="5.4" font-weight="bold" textLength="46.8" lengthAdjust="spacingAndGlyphs" fill="#111" stroke="#111" stroke-width="0.22">Follow-up (months)</text>
<text x="4.8" y="194.3" font-size="5.6" font-weight="bold" text-anchor="middle" dominant-baseline="central" textLength="49.4" lengthAdjust="spacingAndGlyphs" fill="#111" stroke="#111" stroke-width="0.28" transform="rotate(-90 4.8 194.3)">B19 viral load (IU/mL)</text>
<rect x="24.7" y="168.5" width="2.4" height="2.4" fill="#999"/>
<rect x="31.8" y="183.6" width="2.4" height="2.4" fill="#999"/>
<rect x="39.8" y="189" width="2.4" height="2.4" fill="#999"/>
<rect x="45.6" y="193.6" width="2.4" height="2.4" fill="#999"/>
<rect x="51.1" y="193" width="2.4" height="2.4" fill="#999"/>
<rect x="67.8" y="205.6" width="2.4" height="2.4" fill="#999"/>
<rect x="93.8" y="213.8" width="2.4" height="2.4" fill="#999"/>
<rect x="134.2" y="234.8" width="2.4" height="2.4" fill="#999"/>
<rect x="161.8" y="205.9" width="2.4" height="2.4" fill="#999"/>
<polyline points="25.9,169.7 33,184.8 41,190.2 46.8,194.8 52.3,194.2 69,206.8 95,215 135.4,236 163,207.1" fill="none" stroke="#1e1e1e" stroke-width="1.15" stroke-linejoin="round"/>
<line x1="24.8" y1="139" x2="28.2" y2="139" stroke="#707070" stroke-width="0.9"/>
<line x1="26.5" y1="137.5" x2="26.5" y2="140.5" stroke="#707070" stroke-width="0.9"/>
<line x1="31.8" y1="139" x2="35.2" y2="139" stroke="#707070" stroke-width="0.9"/>
<line x1="33.5" y1="137.5" x2="33.5" y2="140.5" stroke="#707070" stroke-width="0.9"/>
<line x1="40.2" y1="139" x2="42.4" y2="139" stroke="#707070" stroke-width="0.9"/>
<line x1="45.8" y1="139" x2="48" y2="139" stroke="#707070" stroke-width="0.9"/>
<line x1="51.2" y1="139" x2="53.4" y2="139" stroke="#707070" stroke-width="0.9"/>
<line x1="67.4" y1="139" x2="69.6" y2="139" stroke="#707070" stroke-width="0.9"/>
<line x1="93.6" y1="139" x2="95.8" y2="139" stroke="#707070" stroke-width="0.9"/>
<line x1="132.9" y1="139" x2="135.1" y2="139" stroke="#707070" stroke-width="0.9"/>
<line x1="161.1" y1="139" x2="163.3" y2="139" stroke="#707070" stroke-width="0.9"/>
<line x1="24.8" y1="145.9" x2="28.2" y2="145.9" stroke="#707070" stroke-width="0.9"/>
<line x1="26.5" y1="144.4" x2="26.5" y2="147.4" stroke="#707070" stroke-width="0.9"/>
<line x1="31.8" y1="145.9" x2="35.2" y2="145.9" stroke="#707070" stroke-width="0.9"/>
<line x1="33.5" y1="144.4" x2="33.5" y2="147.4" stroke="#707070" stroke-width="0.9"/>
<line x1="39.6" y1="145.9" x2="43" y2="145.9" stroke="#707070" stroke-width="0.9"/>
<line x1="41.3" y1="144.4" x2="41.3" y2="147.4" stroke="#707070" stroke-width="0.9"/>
<line x1="45.2" y1="145.9" x2="48.6" y2="145.9" stroke="#707070" stroke-width="0.9"/>
<line x1="46.9" y1="144.4" x2="46.9" y2="147.4" stroke="#707070" stroke-width="0.9"/>
<line x1="50.6" y1="145.9" x2="54" y2="145.9" stroke="#707070" stroke-width="0.9"/>
<line x1="52.3" y1="144.4" x2="52.3" y2="147.4" stroke="#707070" stroke-width="0.9"/>
<line x1="66.8" y1="145.9" x2="70.2" y2="145.9" stroke="#707070" stroke-width="0.9"/>
<line x1="68.5" y1="144.4" x2="68.5" y2="147.4" stroke="#707070" stroke-width="0.9"/>
<line x1="93.6" y1="145.9" x2="95.8" y2="145.9" stroke="#707070" stroke-width="0.9"/>
<line x1="132.9" y1="145.9" x2="135.1" y2="145.9" stroke="#707070" stroke-width="0.9"/>
<line x1="160.5" y1="145.9" x2="163.9" y2="145.9" stroke="#707070" stroke-width="0.9"/>
<line x1="162.2" y1="144.4" x2="162.2" y2="147.4" stroke="#707070" stroke-width="0.9"/>
<rect x="175.9" y="133.6" width="168.7" height="113.3" fill="none" stroke="#8a8a8a" stroke-width="1.0"/>
<text x="252.35" y="131.8" font-size="7.7" textLength="22.6" lengthAdjust="spacingAndGlyphs" fill="#2a2a2a" stroke="#2a2a2a" stroke-width="0.18">Case 5</text>
<text x="182.7" y="141.2" font-size="7.2" textLength="11.3" lengthAdjust="spacingAndGlyphs" fill="#111" stroke="#111" stroke-width="0.26" style="font-family:'Liberation Serif',serif;text-rendering:geometricPrecision">VP1</text>
<text x="182.7" y="147.9" font-size="7.2" textLength="11.3" lengthAdjust="spacingAndGlyphs" fill="#111" stroke="#111" stroke-width="0.26" style="font-family:'Liberation Serif',serif;text-rendering:geometricPrecision">NS1</text>
<rect x="197.7" y="151.5" width="143.7" height="84.3" fill="none" stroke="#c8c8c8" stroke-width="1"/>
<line x1="197.7" y1="151.5" x2="341.4" y2="151.5" stroke="#999" stroke-width="1.0"/>
<line x1="197.7" y1="165.75" x2="341.4" y2="165.75" stroke="#999" stroke-width="1.0"/>
<line x1="197.7" y1="179.8" x2="341.4" y2="179.8" stroke="#999" stroke-width="1.0"/>
<line x1="197.7" y1="193.9" x2="341.4" y2="193.9" stroke="#999" stroke-width="1.0"/>
<line x1="197.7" y1="207.85" x2="341.4" y2="207.85" stroke="#999" stroke-width="1.0"/>
<line x1="197.7" y1="222.1" x2="341.4" y2="222.1" stroke="#c0c0c0" stroke-width="1.0"/>
<line x1="197.7" y1="151.5" x2="197.7" y2="235.8" stroke="#b4b4b4" stroke-width="1"/>
<line x1="197.7" y1="235.8" x2="341.4" y2="235.8" stroke="#999" stroke-width="1"/>
<line x1="196.2" y1="151.5" x2="197.7" y2="151.5" stroke="#999" stroke-width="0.8"/>
<text transform="translate(196.1 153.5) scale(1.0 1)" font-size="4.6" text-anchor="end" font-weight="bold" fill="#4a4a4a">100000</text>
<line x1="196.2" y1="165.75" x2="197.7" y2="165.75" stroke="#999" stroke-width="0.8"/>
<text transform="translate(196.1 167.75) scale(1.0 1)" font-size="4.6" text-anchor="end" font-weight="bold" fill="#4a4a4a">10000</text>
<line x1="196.2" y1="179.8" x2="197.7" y2="179.8" stroke="#999" stroke-width="0.8"/>
<text transform="translate(196.1 181.8) scale(1.0 1)" font-size="4.6" text-anchor="end" font-weight="bold" fill="#4a4a4a">1000</text>
<line x1="196.2" y1="193.9" x2="197.7" y2="193.9" stroke="#999" stroke-width="0.8"/>
<text transform="translate(196.1 195.9) scale(1.0 1)" font-size="4.6" text-anchor="end" font-weight="bold" fill="#4a4a4a">100</text>
<line x1="196.2" y1="207.85" x2="197.7" y2="207.85" stroke="#999" stroke-width="0.8"/>
<text transform="translate(196.1 209.85) scale(1.0 1)" font-size="4.6" text-anchor="end" font-weight="bold" fill="#4a4a4a">10</text>
<line x1="196.2" y1="222.1" x2="197.7" y2="222.1" stroke="#999" stroke-width="0.8"/>
<text transform="translate(196.1 224.1) scale(1.0 1)" font-size="4.6" text-anchor="end" font-weight="bold" fill="#4a4a4a">1</text>
<line x1="196.2" y1="235.8" x2="197.7" y2="235.8" stroke="#999" stroke-width="0.8"/>
<text transform="translate(196.1 237.8) scale(1.0 1)" font-size="4.6" text-anchor="end" font-weight="bold" fill="#707070">Neg</text>
<text transform="translate(201.3 240.4) scale(1.0 1)" font-size="5.0" text-anchor="middle" font-weight="bold" fill="#444">0</text>
<text transform="translate(208.13 240.4) scale(1.0 1)" font-size="5.0" text-anchor="middle" font-weight="bold" fill="#444">3</text>
<text transform="translate(214.96 240.4) scale(1.0 1)" font-size="5.0" text-anchor="middle" font-weight="bold" fill="#444">6</text>
<text transform="translate(221.79 240.4) scale(1.0 1)" font-size="5.0" text-anchor="middle" font-weight="bold" fill="#444">9</text>
<text transform="translate(228.62 240.4) scale(1.0 1)" font-size="5.0" text-anchor="middle" font-weight="bold" fill="#444">12</text>
<text transform="translate(235.45 240.4) scale(1.0 1)" font-size="5.0" text-anchor="middle" font-weight="bold" fill="#444">15</text>
<text transform="translate(242.28 240.4) scale(1.0 1)" font-size="5.0" text-anchor="middle" font-weight="bold" fill="#444">18</text>
<text transform="translate(249.11 240.4) scale(1.0 1)" font-size="5.0" text-anchor="middle" font-weight="bold" fill="#444">21</text>
<text transform="translate(255.94 240.4) scale(1.0 1)" font-size="5.0" text-anchor="middle" font-weight="bold" fill="#444">24</text>
<text transform="translate(262.77 240.4) scale(1.0 1)" font-size="5.0" text-anchor="middle" font-weight="bold" fill="#444">27</text>
<text transform="translate(269.6 240.4) scale(1.0 1)" font-size="5.0" text-anchor="middle" font-weight="bold" fill="#444">30</text>
<text transform="translate(276.43 240.4) scale(1.0 1)" font-size="5.0" text-anchor="middle" font-weight="bold" fill="#444">33</text>
<text transform="translate(283.26 240.4) scale(1.0 1)" font-size="5.0" text-anchor="middle" font-weight="bold" fill="#444">36</text>
<text transform="translate(290.09 240.4) scale(1.0 1)" font-size="5.0" text-anchor="middle" font-weight="bold" fill="#444">39</text>
<text transform="translate(296.92 240.4) scale(1.0 1)" font-size="5.0" text-anchor="middle" font-weight="bold" fill="#444">42</text>
<text transform="translate(303.75 240.4) scale(1.0 1)" font-size="5.0" text-anchor="middle" font-weight="bold" fill="#444">45</text>
<text transform="translate(310.58 240.4) scale(1.0 1)" font-size="5.0" text-anchor="middle" font-weight="bold" fill="#444">48</text>
<text transform="translate(317.41 240.4) scale(1.0 1)" font-size="5.0" text-anchor="middle" font-weight="bold" fill="#444">51</text>
<text transform="translate(324.24 240.4) scale(1.0 1)" font-size="5.0" text-anchor="middle" font-weight="bold" fill="#444">54</text>
<text transform="translate(331.07 240.4) scale(1.0 1)" font-size="5.0" text-anchor="middle" font-weight="bold" fill="#444">57</text>
<text transform="translate(337.9 240.4) scale(1.0 1)" font-size="5.0" text-anchor="middle" font-weight="bold" fill="#444">60</text>
<text x="250.3" y="245.8" font-size="5.4" font-weight="bold" textLength="46.8" lengthAdjust="spacingAndGlyphs" fill="#111" stroke="#111" stroke-width="0.22">Follow-up (months)</text>
<text x="179.9" y="194.3" font-size="5.6" font-weight="bold" text-anchor="middle" dominant-baseline="central" textLength="49.4" lengthAdjust="spacingAndGlyphs" fill="#111" stroke="#111" stroke-width="0.28" transform="rotate(-90 179.9 194.3)">B19 viral load (IU/mL)</text>
<rect x="199.4" y="178.1" width="2.4" height="2.4" fill="#999"/>
<rect x="220.6" y="190" width="2.4" height="2.4" fill="#999"/>
<rect x="239.8" y="201.5" width="2.4" height="2.4" fill="#999"/>
<rect x="256.3" y="205.8" width="2.4" height="2.4" fill="#999"/>
<rect x="260.4" y="206.4" width="2.4" height="2.4" fill="#999"/>
<rect x="280.7" y="234.8" width="2.4" height="2.4" fill="#999"/>
<rect x="289.4" y="202.5" width="2.4" height="2.4" fill="#999"/>
<polyline points="200.6,179.3 221.8,191.2 241,202.7 257.5,207 261.6,207.6 281.9,236 290.6,203.7" fill="none" stroke="#1e1e1e" stroke-width="1.15" stroke-linejoin="round"/>
<line x1="200.2" y1="139" x2="203.6" y2="139" stroke="#707070" stroke-width="0.9"/>
<line x1="201.9" y1="137.5" x2="201.9" y2="140.5" stroke="#707070" stroke-width="0.9"/>
<line x1="219" y1="139" x2="221.2" y2="139" stroke="#707070" stroke-width="0.9"/>
<line x1="239.7" y1="139" x2="241.9" y2="139" stroke="#707070" stroke-width="0.9"/>
<line x1="254" y1="139" x2="257.4" y2="139" stroke="#707070" stroke-width="0.9"/>
<line x1="255.7" y1="137.5" x2="255.7" y2="140.5" stroke="#707070" stroke-width="0.9"/>
<line x1="260.1" y1="139" x2="262.3" y2="139" stroke="#707070" stroke-width="0.9"/>
<line x1="280.3" y1="139" x2="282.5" y2="139" stroke="#707070" stroke-width="0.9"/>
<line x1="289.1" y1="139" x2="291.3" y2="139" stroke="#707070" stroke-width="0.9"/>
<line x1="200.2" y1="145.9" x2="203.6" y2="145.9" stroke="#707070" stroke-width="0.9"/>
<line x1="201.9" y1="144.4" x2="201.9" y2="147.4" stroke="#707070" stroke-width="0.9"/>
<line x1="218.8" y1="145.9" x2="222.2" y2="145.9" stroke="#707070" stroke-width="0.9"/>
<line x1="220.5" y1="144.4" x2="220.5" y2="147.4" stroke="#707070" stroke-width="0.9"/>
<line x1="239.1" y1="145.9" x2="242.5" y2="145.9" stroke="#707070" stroke-width="0.9"/>
<line x1="240.8" y1="144.4" x2="240.8" y2="147.4" stroke="#707070" stroke-width="0.9"/>
<line x1="254" y1="145.9" x2="257.4" y2="145.9" stroke="#707070" stroke-width="0.9"/>
<line x1="255.7" y1="144.4" x2="255.7" y2="147.4" stroke="#707070" stroke-width="0.9"/>
<line x1="260.1" y1="145.9" x2="262.3" y2="145.9" stroke="#707070" stroke-width="0.9"/>
<line x1="280.3" y1="145.9" x2="282.5" y2="145.9" stroke="#707070" stroke-width="0.9"/>
<line x1="289.1" y1="145.9" x2="291.3" y2="145.9" stroke="#707070" stroke-width="0.9"/>
<rect x="351.7" y="133.5" width="167" height="113.4" fill="none" stroke="#8a8a8a" stroke-width="1.0"/>
<text x="428.15" y="131.8" font-size="7.7" textLength="22.6" lengthAdjust="spacingAndGlyphs" fill="#2a2a2a" stroke="#2a2a2a" stroke-width="0.18">Case 6</text>
<text x="358.7" y="141.2" font-size="7.2" textLength="11.3" lengthAdjust="spacingAndGlyphs" fill="#111" stroke="#111" stroke-width="0.26" style="font-family:'Liberation Serif',serif;text-rendering:geometricPrecision">VP1</text>
<text x="358.7" y="147.9" font-size="7.2" textLength="11.3" lengthAdjust="spacingAndGlyphs" fill="#111" stroke="#111" stroke-width="0.26" style="font-family:'Liberation Serif',serif;text-rendering:geometricPrecision">NS1</text>
<rect x="372.9" y="151.5" width="143" height="84.3" fill="none" stroke="#c8c8c8" stroke-width="1"/>
<line x1="372.9" y1="151.5" x2="515.9" y2="151.5" stroke="#999" stroke-width="1.0"/>
<line x1="372.9" y1="165.75" x2="515.9" y2="165.75" stroke="#999" stroke-width="1.0"/>
<line x1="372.9" y1="179.8" x2="515.9" y2="179.8" stroke="#999" stroke-width="1.0"/>
<line x1="372.9" y1="193.9" x2="515.9" y2="193.9" stroke="#999" stroke-width="1.0"/>
<line x1="372.9" y1="207.85" x2="515.9" y2="207.85" stroke="#999" stroke-width="1.0"/>
<line x1="372.9" y1="222.1" x2="515.9" y2="222.1" stroke="#c0c0c0" stroke-width="1.0"/>
<line x1="372.9" y1="151.5" x2="372.9" y2="235.8" stroke="#b4b4b4" stroke-width="1"/>
<line x1="372.9" y1="235.8" x2="515.9" y2="235.8" stroke="#999" stroke-width="1"/>
<line x1="371.4" y1="151.5" x2="372.9" y2="151.5" stroke="#999" stroke-width="0.8"/>
<text transform="translate(371.3 153.5) scale(1.0 1)" font-size="4.6" text-anchor="end" font-weight="bold" fill="#4a4a4a">100000</text>
<line x1="371.4" y1="165.75" x2="372.9" y2="165.75" stroke="#999" stroke-width="0.8"/>
<text transform="translate(371.3 167.75) scale(1.0 1)" font-size="4.6" text-anchor="end" font-weight="bold" fill="#4a4a4a">10000</text>
<line x1="371.4" y1="179.8" x2="372.9" y2="179.8" stroke="#999" stroke-width="0.8"/>
<text transform="translate(371.3 181.8) scale(1.0 1)" font-size="4.6" text-anchor="end" font-weight="bold" fill="#4a4a4a">1000</text>
<line x1="371.4" y1="193.9" x2="372.9" y2="193.9" stroke="#999" stroke-width="0.8"/>
<text transform="translate(371.3 195.9) scale(1.0 1)" font-size="4.6" text-anchor="end" font-weight="bold" fill="#4a4a4a">100</text>
<line x1="371.4" y1="207.85" x2="372.9" y2="207.85" stroke="#999" stroke-width="0.8"/>
<text transform="translate(371.3 209.85) scale(1.0 1)" font-size="4.6" text-anchor="end" font-weight="bold" fill="#4a4a4a">10</text>
<line x1="371.4" y1="222.1" x2="372.9" y2="222.1" stroke="#999" stroke-width="0.8"/>
<text transform="translate(371.3 224.1) scale(1.0 1)" font-size="4.6" text-anchor="end" font-weight="bold" fill="#4a4a4a">1</text>
<line x1="371.4" y1="235.8" x2="372.9" y2="235.8" stroke="#999" stroke-width="0.8"/>
<text transform="translate(371.3 237.8) scale(1.0 1)" font-size="4.6" text-anchor="end" font-weight="bold" fill="#707070">Neg</text>
<text transform="translate(375.7 240.4) scale(1.0 1)" font-size="5.0" text-anchor="middle" font-weight="bold" fill="#444">0</text>
<text transform="translate(382.55 240.4) scale(1.0 1)" font-size="5.0" text-anchor="middle" font-weight="bold" fill="#444">3</text>
<text transform="translate(389.39 240.4) scale(1.0 1)" font-size="5.0" text-anchor="middle" font-weight="bold" fill="#444">6</text>
<text transform="translate(396.24 240.4) scale(1.0 1)" font-size="5.0" text-anchor="middle" font-weight="bold" fill="#444">9</text>
<text transform="translate(403.08 240.4) scale(1.0 1)" font-size="5.0" text-anchor="middle" font-weight="bold" fill="#444">12</text>
<text transform="translate(409.93 240.4) scale(1.0 1)" font-size="5.0" text-anchor="middle" font-weight="bold" fill="#444">15</text>
<text transform="translate(416.77 240.4) scale(1.0 1)" font-size="5.0" text-anchor="middle" font-weight="bold" fill="#444">18</text>
<text transform="translate(423.62 240.4) scale(1.0 1)" font-size="5.0" text-anchor="middle" font-weight="bold" fill="#444">21</text>
<text transform="translate(430.46 240.4) scale(1.0 1)" font-size="5.0" text-anchor="middle" font-weight="bold" fill="#444">24</text>
<text transform="translate(437.31 240.4) scale(1.0 1)" font-size="5.0" text-anchor="middle" font-weight="bold" fill="#444">27</text>
<text transform="translate(444.15 240.4) scale(1.0 1)" font-size="5.0" text-anchor="middle" font-weight="bold" fill="#444">30</text>
<text transform="translate(451 240.4) scale(1.0 1)" font-size="5.0" text-anchor="middle" font-weight="bold" fill="#444">33</text>
<text transform="translate(457.84 240.4) scale(1.0 1)" font-size="5.0" text-anchor="middle" font-weight="bold" fill="#444">36</text>
<text transform="translate(464.69 240.4) scale(1.0 1)" font-size="5.0" text-anchor="middle" font-weight="bold" fill="#444">39</text>
<text transform="translate(471.53 240.4) scale(1.0 1)" font-size="5.0" text-anchor="middle" font-weight="bold" fill="#444">42</text>
<text transform="translate(478.38 240.4) scale(1.0 1)" font-size="5.0" text-anchor="middle" font-weight="bold" fill="#444">45</text>
<text transform="translate(485.22 240.4) scale(1.0 1)" font-size="5.0" text-anchor="middle" font-weight="bold" fill="#444">48</text>
<text transform="translate(492.06 240.4) scale(1.0 1)" font-size="5.0" text-anchor="middle" font-weight="bold" fill="#444">51</text>
<text transform="translate(498.91 240.4) scale(1.0 1)" font-size="5.0" text-anchor="middle" font-weight="bold" fill="#444">54</text>
<text transform="translate(505.75 240.4) scale(1.0 1)" font-size="5.0" text-anchor="middle" font-weight="bold" fill="#444">57</text>
<text transform="translate(512.6 240.4) scale(1.0 1)" font-size="5.0" text-anchor="middle" font-weight="bold" fill="#444">60</text>
<text x="426.3" y="245.8" font-size="5.4" font-weight="bold" textLength="46.8" lengthAdjust="spacingAndGlyphs" fill="#111" stroke="#111" stroke-width="0.22">Follow-up (months)</text>
<text x="355.9" y="194.3" font-size="5.6" font-weight="bold" text-anchor="middle" dominant-baseline="central" textLength="49.4" lengthAdjust="spacingAndGlyphs" fill="#111" stroke="#111" stroke-width="0.28" transform="rotate(-90 355.9 194.3)">B19 viral load (IU/mL)</text>
<rect x="373.9" y="152.3" width="2.4" height="2.4" fill="#999"/>
<rect x="435.1" y="197.8" width="2.4" height="2.4" fill="#999"/>
<rect x="443.8" y="201" width="2.4" height="2.4" fill="#999"/>
<rect x="512.6" y="197.6" width="2.4" height="2.4" fill="#999"/>
<polyline points="375.1,153.5 436.3,199 445,202.2 513.8,198.8" fill="none" stroke="#1e1e1e" stroke-width="1.15" stroke-linejoin="round"/>
<line x1="374.1" y1="139" x2="377.5" y2="139" stroke="#707070" stroke-width="0.9"/>
<line x1="375.8" y1="137.5" x2="375.8" y2="140.5" stroke="#707070" stroke-width="0.9"/>
<line x1="435.2" y1="139" x2="437.4" y2="139" stroke="#707070" stroke-width="0.9"/>
<line x1="443.8" y1="139" x2="446" y2="139" stroke="#707070" stroke-width="0.9"/>
<line x1="510.7" y1="139" x2="512.9" y2="139" stroke="#707070" stroke-width="0.9"/>
<line x1="374.1" y1="145.9" x2="377.5" y2="145.9" stroke="#707070" stroke-width="0.9"/>
<line x1="375.8" y1="144.4" x2="375.8" y2="147.4" stroke="#707070" stroke-width="0.9"/>
<line x1="435.2" y1="145.9" x2="437.4" y2="145.9" stroke="#707070" stroke-width="0.9"/>
<line x1="443.8" y1="145.9" x2="446" y2="145.9" stroke="#707070" stroke-width="0.9"/>
<line x1="510.7" y1="145.9" x2="512.9" y2="145.9" stroke="#707070" stroke-width="0.9"/>
</svg></body></html>
